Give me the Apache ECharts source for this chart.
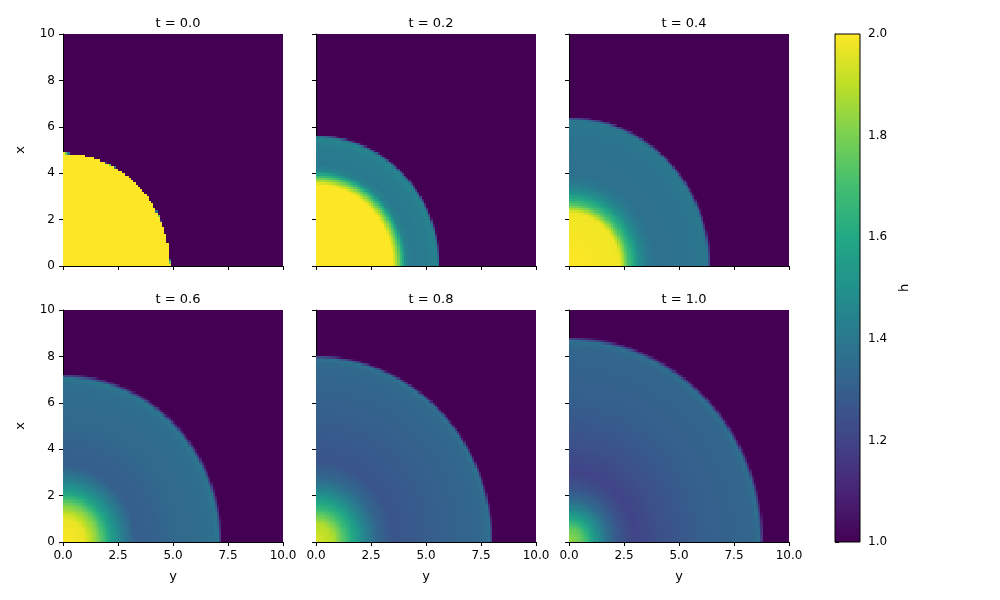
<!DOCTYPE html>
<html><head><meta charset="utf-8">
<script src="https://cdn.jsdelivr.net/npm/echarts@6/dist/echarts.min.js"></script>
<style>html,body{margin:0;background:#fff}#c{width:1000px;height:600px}</style>
</head><body><div id="c"></div>
<script>
// radial profiles h(r)
const times = ['t = 0.0','t = 0.2','t = 0.4','t = 0.6','t = 0.8','t = 1.0'];
const r00 = [0, 4.85, 4.86];                 const h00 = [2, 2, 1];
const r02 = [0,3.5,3.8,4.1,4.4,5.2,5.45,5.55,5.65]; const h02 = [2,2,1.75,1.45,1.4,1.42,1.45,1.4,1.0];
const r04 = [0,2.3,2.7,3.2,3.6,4.0,5.5,6.2,6.3,6.45]; const h04 = [2,1.98,1.7,1.48,1.4,1.37,1.38,1.4,1.38,1.0];
const r06 = [0,1.0,1.6,2.2,2.7,3.3,3.8,5,6.8,7.05,7.25]; const h06 = [2.0,1.97,1.8,1.55,1.42,1.3,1.3,1.34,1.36,1.4,1.0];
const r08 = [0,0.8,1.5,2.2,2.8,3.5,4.5,6,7.7,7.9,8.05]; const h08 = [1.95,1.88,1.65,1.45,1.33,1.26,1.28,1.31,1.34,1.38,1.0];
const r10 = [0,0.6,1.2,1.8,2.4,3.0,4.0,6,8.4,8.65,8.85]; const h10 = [1.85,1.75,1.52,1.35,1.25,1.2,1.24,1.3,1.33,1.37,1.0];
const profiles = [[r00,h00],[r02,h02],[r04,h04],[r06,h06],[r08,h08],[r10,h10]];
const viridis = ['#440154','#482475','#414487','#355f8d','#2a788e','#21918c','#22a884','#42be71','#7ad151','#bddf26','#fde725'];
const cbTicks = [1.0,1.2,1.4,1.6,1.8,2.0];

function lookup(rs, hs, r){
  if (r >= rs[rs.length-1]) return 1;
  for (let i=1;i<rs.length;i++){
    if (r <= rs[i]){ const f=(r-rs[i-1])/(rs[i]-rs[i-1]); return hs[i-1]+f*(hs[i]-hs[i-1]); }
  }
  return 1;
}
const N=100, d=0.1;
const L=[63,316,569], T=[34,310], W=220, H=232;
const grids=[], xAxes=[], yAxes=[], series=[], titles=[];
const font='DejaVu Sans';
profiles.forEach((p,k)=>{
  const row=Math.floor(k/3), col=k%3;
  grids.push({left:L[col], top:T[row], width:W, height:H, show:true, backgroundColor:'#440154', borderWidth:0});
  xAxes.push({gridIndex:k, type:'value', min:0, max:10, interval:2.5, name: row===1?'y':'', nameLocation:'middle', nameGap:28,
    nameTextStyle:{fontFamily:font,fontSize:13,color:'#000'},
    axisLine:{show:true,onZero:false,lineStyle:{color:'#000'}}, axisTick:{show:true,length:4,lineStyle:{color:'#000'}},
    axisLabel:{show:row===1, fontFamily:font, fontSize:12, color:'#000', formatter:v=>v.toFixed(1)}, splitLine:{show:false}});
  yAxes.push({gridIndex:k, type:'value', min:0, max:10, interval:2, name: col===0?'x':'', nameLocation:'middle', nameGap:36,
    nameTextStyle:{fontFamily:font,fontSize:13,color:'#000'},
    axisLine:{show:true,onZero:false,lineStyle:{color:'#000'}}, axisTick:{show:true,length:4,lineStyle:{color:'#000'}},
    axisLabel:{show:col===0, fontFamily:font, fontSize:12, color:'#000'}, splitLine:{show:false}});
  titles.push({text:times[k], left:L[col]+W/2, top:T[row]-22, textAlign:'center',
    textStyle:{fontFamily:font,fontSize:13,fontWeight:'normal',color:'#000'}});
  const data=[];
  for(let i=0;i<N;i++) for(let j=0;j<N;j++){
    const x=(i+0.5)*d, y=(j+0.5)*d;
    const h=lookup(p[0],p[1],Math.sqrt(x*x+y*y));
    if(h>1.005) data.push([i*d, j*d, h]);
  }
  series.push({type:'custom', xAxisIndex:k, yAxisIndex:k, data, encode:{x:0,y:1}, clip:true, silent:true,
    renderItem:(params,api)=>{
      const a=api.coord([api.value(0),api.value(1)+d]);
      const b=api.coord([api.value(0)+d,api.value(1)]);
      const x0=Math.round(a[0]), y0=Math.round(a[1]), x1=Math.round(b[0]), y1=Math.round(b[1]);
      return {type:'rect', shape:{x:x0,y:y0,width:x1-x0,height:y1-y0},
        style:{fill:api.visual('color')}};
    }});
});
// colorbar
grids.push({left:835, top:34, width:25, height:508, show:false});
xAxes.push({gridIndex:6, type:'value', min:0, max:1, show:false});
yAxes.push({gridIndex:6, type:'value', min:cbTicks[0], max:cbTicks[cbTicks.length-1], interval:0.2, position:'right',
  name:'h', nameLocation:'middle', nameGap:38, nameRotate:90, nameTextStyle:{fontFamily:font,fontSize:13,color:'#000'},
  axisLine:{show:true,lineStyle:{color:'#000'}}, axisTick:{show:true,length:4,lineStyle:{color:'#000'}},
  axisLabel:{fontFamily:font,fontSize:12,color:'#000',formatter:v=>v.toFixed(1)}, splitLine:{show:false}});
series.push({type:'custom', xAxisIndex:6, yAxisIndex:6, data:[[0,1]], silent:true,
  renderItem:(params,api)=>{
    const a=api.coord([0,2]), b=api.coord([1,1]);
    return {type:'rect', shape:{x:a[0],y:a[1],width:b[0]-a[0],height:b[1]-a[1]},
      style:{stroke:'#000',lineWidth:1,fill:new echarts.graphic.LinearGradient(0,1,0,0,
        viridis.map((c,i)=>({offset:i/(viridis.length-1),color:c})))}};
  }});
const chart=echarts.init(document.getElementById('c'),null,{renderer:'canvas'});
chart.setOption({animation:false, backgroundColor:'#fff', title:titles, grid:grids, xAxis:xAxes, yAxis:yAxes,
  visualMap:{show:false, min:1, max:2, dimension:2, seriesIndex:[0,1,2,3,4,5], inRange:{color:viridis}},
  series});
</script></body></html>
